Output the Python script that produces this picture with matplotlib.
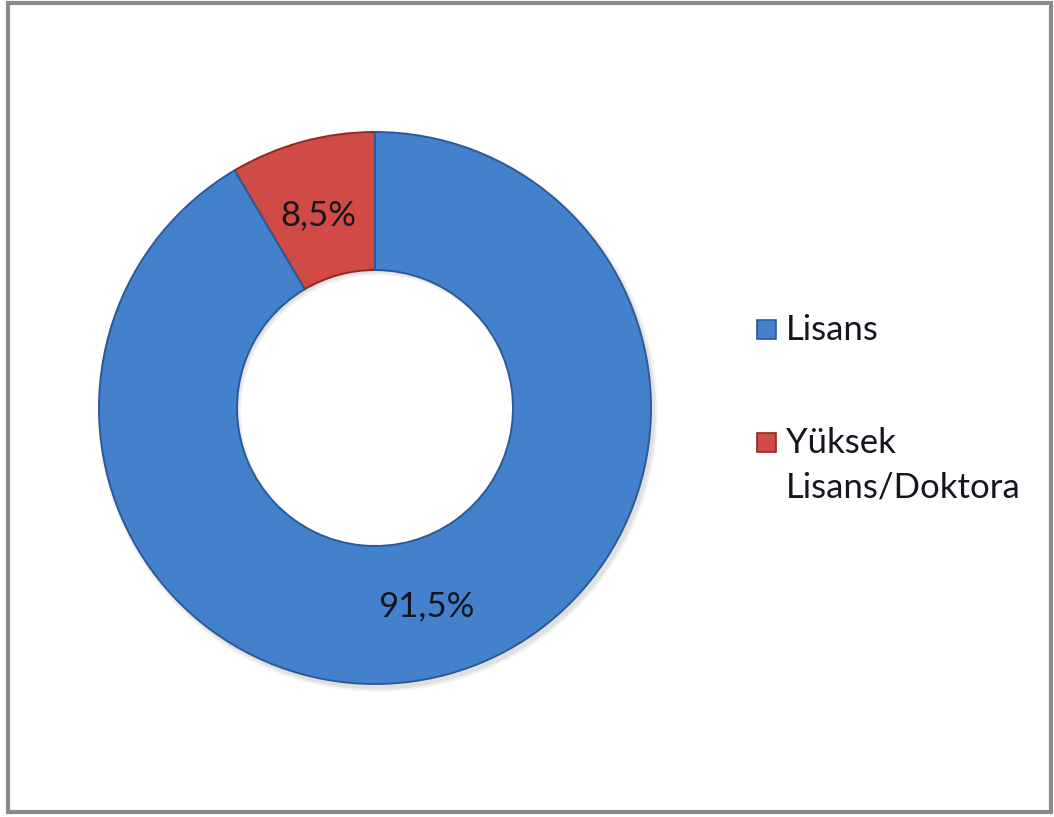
import matplotlib.pyplot as plt
from matplotlib.patches import Rectangle, Wedge

plt.rcParams['font.family'] = ['Lato', 'DejaVu Sans']

# Education level shares (percent)
labels = ['Yüksek Lisans/Doktora', 'Lisans']
legend_labels = [['Lisans'], ['Yüksek', 'Lisans/Doktora']]
shares = [8.5, 91.5]
value_texts = ['8,5%', '91,5%']
colors = ['#d04b45', '#4381cd']
edge_colors = ['#8e2a26', '#2c5a96']

W, H = 1054, 817
CX, CY, R, RING = 375, 408, 276, 138
FS = 25
TXT = '#151520'

fig = plt.figure(figsize=(W / 100, H / 100), dpi=100)
ax = fig.add_axes([0, 0, 1, 1])

# soft shadow under the ring
for k, a in enumerate([0.05, 0.04, 0.03]):
    ax.add_patch(Wedge((CX + 3, CY + 4), R + 1 + k * 1.5, 0, 360, width=RING + 2,
                       facecolor='#000000', alpha=a, edgecolor='none', zorder=0))

# y axis is inverted, so the wedges run clockwise in data space
wedges, _ = ax.pie(
    shares,
    colors=colors,
    startangle=-90,
    counterclock=False,
    center=(CX, CY),
    radius=R,
    wedgeprops=dict(width=RING, linewidth=1.4),
)
for w, ec in zip(wedges, edge_colors):
    w.set_edgecolor(ec)
    w.set_zorder(2)

# percentage labels placed in the ring
ax.text(318, 215, value_texts[0], ha='center', va='center', fontsize=FS, color=TXT, zorder=3)
ax.text(426, 606, value_texts[1], ha='center', va='center', fontsize=FS, color=TXT, zorder=3)

ax.set_xlim(0, W)
ax.set_ylim(H, 0)
ax.set_aspect('equal')
ax.axis('off')

# chart frame
ax.add_patch(Rectangle((8, 3), W - 11, H - 8, fill=False, edgecolor='#8a8a8a', linewidth=3))

# legend: square key next to the first line of each entry
legend_colors = [colors[1], colors[0]]
legend_edges = [edge_colors[1], edge_colors[0]]
key_tops = [320, 433]
for lines, fc, ec, top in zip(legend_labels, legend_colors, legend_edges, key_tops):
    ax.add_patch(Rectangle((757, top), 19, 19, facecolor=fc, edgecolor=ec, linewidth=1.2))
    for i, line in enumerate(lines):
        ax.text(786, top + 20 + 44 * i, line, ha='left', va='baseline',
                fontsize=FS, color=TXT)

fig.savefig('out.png', dpi=100)
